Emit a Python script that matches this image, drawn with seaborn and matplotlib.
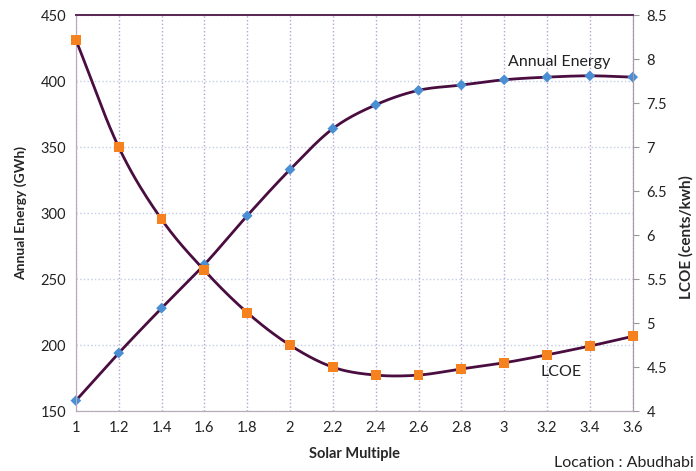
import numpy as np
import pandas as pd
import seaborn as sns
import matplotlib
matplotlib.use('Agg')
import matplotlib.pyplot as plt
from matplotlib.ticker import FuncFormatter

# data
solar_multiple = [1.0, 1.2, 1.4, 1.6, 1.8, 2.0, 2.2, 2.4, 2.6, 2.8, 3.0, 3.2, 3.4, 3.6]
annual_energy = [158, 194, 228, 261, 298, 333, 364, 382, 393, 397, 401, 403, 404, 403]
lcoe = [8.22, 7.0, 6.18, 5.6, 5.12, 4.75, 4.5, 4.41, 4.41, 4.48, 4.55, 4.64, 4.74, 4.85]

line_col = '#4a0d40'


def smooth(x, y, n=20):
    # catmull-rom curve through the points, like excel's smoothed line
    x = np.asarray(x, float)
    y = np.asarray(y, float)
    px = np.concatenate([[2 * x[0] - x[1]], x, [2 * x[-1] - x[-2]]])
    py = np.concatenate([[2 * y[0] - y[1]], y, [2 * y[-1] - y[-2]]])
    xs, ys = [], []
    t = np.linspace(0, 1, n, endpoint=False)
    for i in range(1, len(px) - 2):
        for p, out in ((px, xs), (py, ys)):
            p0, p1, p2, p3 = p[i - 1], p[i], p[i + 1], p[i + 2]
            out.extend(0.5 * ((2 * p1) + (-p0 + p2) * t + (2 * p0 - 5 * p1 + 4 * p2 - p3) * t ** 2
                              + (-p0 + 3 * p1 - 3 * p2 + p3) * t ** 3))
    xs.append(x[-1])
    ys.append(y[-1])
    return pd.DataFrame({'x': xs, 'y': ys})


sns.set_style('white')
plt.rcParams['font.family'] = ['Lato', 'DejaVu Sans']

fig = plt.figure(figsize=(6.96, 4.71), dpi=100)
ax = fig.add_axes([0.109, 0.127, 0.8, 0.841])
ax2 = ax.twinx()

df_e = pd.DataFrame({'sm': solar_multiple, 'e': annual_energy})
df_l = pd.DataFrame({'sm': solar_multiple, 'l': lcoe})

sns.lineplot(data=smooth(solar_multiple, annual_energy), x='x', y='y', ax=ax, sort=False,
             color=line_col, linewidth=2.0, zorder=3)
sns.scatterplot(data=df_e, x='sm', y='e', ax=ax, marker='D', s=30, color='#4a8fd4',
                edgecolor='none', zorder=4, clip_on=False)
sns.lineplot(data=smooth(solar_multiple, lcoe), x='x', y='y', ax=ax2, sort=False,
             color=line_col, linewidth=2.0, zorder=3)
sns.scatterplot(data=df_l, x='sm', y='l', ax=ax2, marker='s', s=50, color='#f5821f',
                edgecolor='none', zorder=4, clip_on=False)

ax.set_xlim(1, 3.6)
ax.set_ylim(150, 450)
ax2.set_ylim(4, 8.5)
ax.set_xticks(np.arange(1, 3.61, 0.2))
ax.set_yticks(np.arange(150, 451, 50))
ax2.set_yticks(np.arange(4, 8.51, 0.5))
ax.xaxis.set_major_formatter(FuncFormatter(lambda v, p: '%g' % round(v, 1)))
ax2.yaxis.set_major_formatter(FuncFormatter(lambda v, p: '%g' % v))

ax.xaxis.grid(True, color='#b9a3cc', linestyle=':', linewidth=1.0)
ax.yaxis.grid(True, color='#c4cce6', linestyle=':', linewidth=1.0)
ax.set_axisbelow(True)
ax.tick_params(axis='both', length=0, labelsize=10.5, colors='#222222', pad=7)
ax2.tick_params(axis='y', length=4, width=0.8, color='#999999', labelsize=10.5,
                colors='#222222', pad=6)

for a in (ax, ax2):
    a.spines['top'].set_color('#5a2a55')
    a.spines['top'].set_linewidth(1.3)
    a.spines['left'].set_color('#b8aab8')
    a.spines['bottom'].set_color('#b8aab8')
    a.spines['right'].set_color('#a898a8')

ax.set_xlabel('Solar Multiple', fontsize=10.5, fontweight='bold')
ax.set_ylabel('Annual Energy (GWh)', fontsize=10, fontweight='bold')
ax2.set_ylabel('LCOE (cents/kwh)', fontsize=11, fontweight='bold')
ax.xaxis.set_label_coords(0.5, -0.09)
ax.yaxis.set_label_coords(-0.088, 0.5)
ax2.yaxis.set_label_coords(1.084, 0.44)

ax2.text(3.255, 7.97, 'Annual Energy', fontsize=11.5, ha='center', va='center', color='#222222')
ax2.text(3.264, 4.44, 'LCOE', fontsize=11.5, ha='center', va='center', color='#222222')
fig.text(0.997, 0.017, 'Location : Abudhabi', fontsize=11.5, ha='right', va='center', color='#222222')

fig.savefig('out.png', dpi=100)
